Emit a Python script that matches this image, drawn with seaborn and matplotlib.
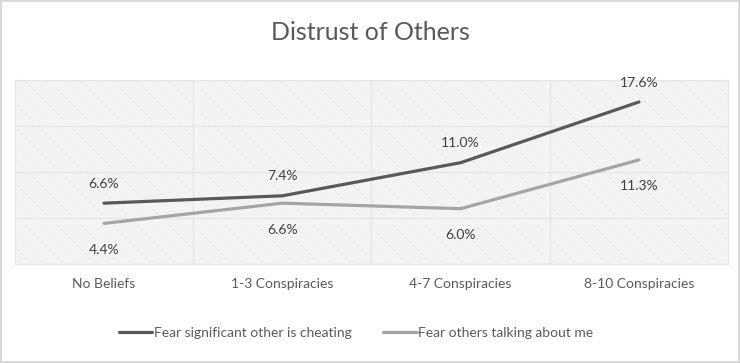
import pandas as pd
import matplotlib.pyplot as plt
import seaborn as sns
from matplotlib.patches import Rectangle

categories = ["No Beliefs", "1-3 Conspiracies", "4-7 Conspiracies", "8-10 Conspiracies"]
cheating = [6.6, 7.4, 11.0, 17.6]
talking = [4.4, 6.6, 6.0, 11.3]
series_names = ["Fear significant other is cheating", "Fear others talking about me"]

sns.set_style("white")
plt.rcParams['font.family'] = ['Lato', 'DejaVu Sans']
plt.rcParams['hatch.linewidth'] = 0.5

df = pd.DataFrame({
    "cat": categories * 2,
    "x": list(range(len(categories))) * 2,
    "value": cheating + talking,
    "series": [series_names[0]] * 4 + [series_names[1]] * 4,
})

fig = plt.figure(figsize=(7.4, 3.63), dpi=100)
fig.patch.set_edgecolor('#d9d9d9')
fig.patch.set_linewidth(1.5)
ax = fig.add_axes([0.020, 0.273, 0.964, 0.507])

# hatched plot area
ax.add_patch(Rectangle((0, 0), 1, 1, transform=ax.transAxes, fill=False,
                       hatch='\\' * 14, edgecolor='#e4e4e4', lw=0, zorder=0))

palette = {series_names[0]: '#595959', series_names[1]: '#a5a5a5'}
sns.lineplot(data=df, x="x", y="value", hue="series", palette=palette,
             linewidth=2.3, ax=ax, legend=False, zorder=3)

ax.set_xlim(-0.5, 3.5)
ax.set_ylim(0, 20)
ax.set_yticks([0, 5, 10, 15, 20])
ax.set_yticklabels([])
ax.set_xticks(range(len(categories)))
ax.set_xticklabels(categories, fontsize=10, color='#595959')
ax.set_xticks([0.5, 1.5, 2.5], minor=True)
ax.tick_params(axis='both', length=0, which='both', pad=10)
ax.grid(axis='y', color='#e6e6e6', lw=1, zorder=1)
ax.grid(axis='x', which='minor', color='#e6e6e6', lw=1, zorder=1)
ax.set_axisbelow(True)
for s in ax.spines.values():
    s.set_color('#e6e6e6')
ax.set_xlabel("")
ax.set_ylabel("")

for i, v in enumerate(cheating):
    ax.annotate(f"{v:.1f}%", (i, v), xytext=(0, 14), textcoords='offset points',
                ha='center', va='center', fontsize=10, color='#404040')
for i, v in enumerate(talking):
    ax.annotate(f"{v:.1f}%", (i, v), xytext=(0, -19), textcoords='offset points',
                ha='center', va='center', fontsize=10, color='#404040')

fig.text(0.5, 1 - 32 / 363, "Distrust of Others", ha='center', va='center',
         fontsize=18, color='#595959')

handles = [plt.Line2D([], [], color='#595959', lw=2.3),
           plt.Line2D([], [], color='#a5a5a5', lw=2.3)]
fig.legend(handles, series_names, loc='center', bbox_to_anchor=(0.481, 1 - 333 / 363),
           ncol=2, frameon=False, fontsize=10, labelcolor='#595959',
           handlelength=2.4, handletextpad=0.1, columnspacing=2.3)

fig.savefig("out.png", dpi=100)
